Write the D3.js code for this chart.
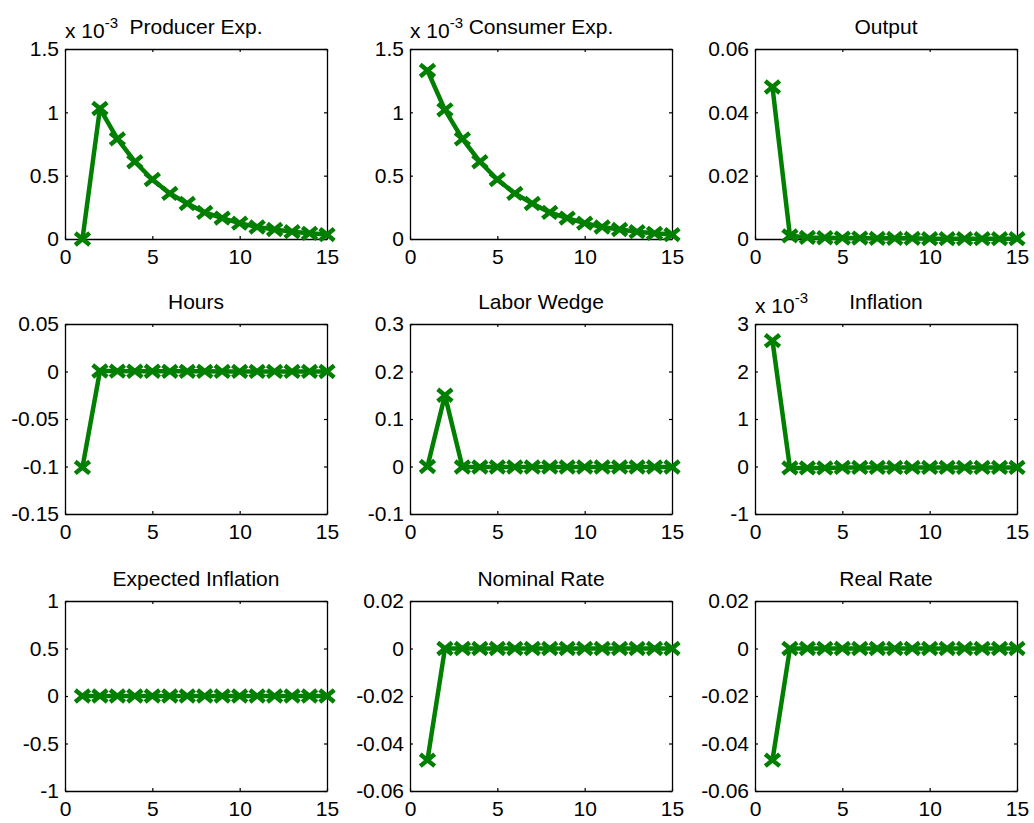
<!DOCTYPE html>
<html>
<head>
<meta charset="utf-8">
<script src="https://cdn.jsdelivr.net/npm/d3@7"></script>
<style>
  html, body { margin: 0; padding: 0; background: #fff; }
  svg { display: block; font-family: "Liberation Sans", Arial, Helvetica, sans-serif; }
</style>
</head>
<body>
<svg id="chart" width="1034" height="823"></svg>
<script>
// ---------- data ----------
const periods = [1,2,3,4,5,6,7,8,9,10,11,12,13,14,15];

const titles = ["Producer Exp.", "Consumer Exp.", "Output",
                "Hours", "Labor Wedge", "Inflation",
                "Expected Inflation", "Nominal Rate", "Real Rate"];

// values in displayed units (panels with exponent are in units of 10^-3)
const producerExp = [0, 1.03, 0.79, 0.61, 0.47, 0.36, 0.28, 0.21, 0.165, 0.125, 0.095, 0.075, 0.058, 0.045, 0.035];
const consumerExp = [1.33, 1.02, 0.79, 0.61, 0.47, 0.36, 0.28, 0.21, 0.165, 0.125, 0.095, 0.075, 0.058, 0.045, 0.035];
const output      = [0.048, 0.001, 0.0005, 0.0004, 0.0003, 0.0003, 0.0002, 0.0002, 0.0002, 0.0001, 0.0001, 0.0001, 0.0001, 0.0001, 0.0001];
const hours       = [-0.101, 0.0005, 0.0004, 0.0003, 0.0003, 0.0002, 0.0002, 0.0002, 0.0001, 0.0001, 0.0001, 0.0001, 0.0001, 0.0001, 0];
const laborWedge  = [0, 0.15, -0.001, -0.001, -0.001, -0.001, -0.001, -0.001, -0.001, -0.001, -0.001, -0.001, -0.001, -0.001, -0.001];
const inflation   = [2.65, -0.03, -0.03, -0.03, -0.02, -0.02, -0.02, -0.02, -0.02, -0.02, -0.02, -0.02, -0.02, -0.02, -0.02];
const expInflation= [0, 0, 0, 0, 0, 0, 0, 0, 0, 0, 0, 0, 0, 0, 0];
const nominalRate = [-0.047, 0, 0, 0, 0, 0, 0, 0, 0, 0, 0, 0, 0, 0, 0];
const realRate    = [-0.047, 0, 0, 0, 0, 0, 0, 0, 0, 0, 0, 0, 0, 0, 0];

const seriesList = [producerExp, consumerExp, output, hours, laborWedge, inflation, expInflation, nominalRate, realRate];

const xTicks = [0, 5, 10, 15];
const xTickLabels = ["0", "5", "10", "15"];

const yDomains = [[0, 1.5], [0, 1.5], [0, 0.06],
                  [-0.15, 0.05], [-0.1, 0.3], [-1, 3],
                  [-1, 1], [-0.06, 0.02], [-0.06, 0.02]];
const yTicks = [[0, 0.5, 1, 1.5], [0, 0.5, 1, 1.5], [0, 0.02, 0.04, 0.06],
                [-0.15, -0.1, -0.05, 0, 0.05], [-0.1, 0, 0.1, 0.2, 0.3], [-1, 0, 1, 2, 3],
                [-1, -0.5, 0, 0.5, 1], [-0.06, -0.04, -0.02, 0, 0.02], [-0.06, -0.04, -0.02, 0, 0.02]];
const yTickLabels = [["0", "0.5", "1", "1.5"], ["0", "0.5", "1", "1.5"], ["0", "0.02", "0.04", "0.06"],
                     ["-0.15", "-0.1", "-0.05", "0", "0.05"], ["-0.1", "0", "0.1", "0.2", "0.3"], ["-1", "0", "1", "2", "3"],
                     ["-1", "-0.5", "0", "0.5", "1"], ["-0.06", "-0.04", "-0.02", "0", "0.02"], ["-0.06", "-0.04", "-0.02", "0", "0.02"]];
const exponents = ["-3", "-3", null, null, null, "-3", null, null, null];

// ---------- layout ----------
const colLeft = [65, 410, 755];
const rowTop = [49, 324, 601];
const plotW = 262, plotH = 190;
const green = "#007f00";
const fontSize = 21;

const svg = d3.select("#chart");
svg.append("rect").attr("width", 1034).attr("height", 823).attr("fill", "#fff");

titles.forEach((title, i) => {
  const r = Math.floor(i / 3), c = i % 3;
  const g = svg.append("g").attr("transform", `translate(${colLeft[c]},${rowTop[r]})`);
  const x = d3.scaleLinear().domain([0, 15]).range([0, plotW]);
  const y = d3.scaleLinear().domain(yDomains[i]).range([plotH, 0]);

  // axes (MATLAB style: inward ticks on all four sides)
  const tl = 3;
  const bottom = d3.axisBottom(x).tickValues(xTicks).tickSizeInner(-tl).tickSizeOuter(0)
      .tickPadding(6).tickFormat((d, k) => xTickLabels[k]);
  const top = d3.axisTop(x).tickValues(xTicks).tickSizeInner(-tl).tickSizeOuter(0).tickFormat("");
  const left = d3.axisLeft(y).tickValues(yTicks[i]).tickSizeInner(-tl).tickSizeOuter(0)
      .tickPadding(6).tickFormat((d, k) => yTickLabels[i][k]);
  const right = d3.axisRight(y).tickValues(yTicks[i]).tickSizeInner(-tl).tickSizeOuter(0).tickFormat("");

  const styleAxis = sel => {
    sel.selectAll("path").attr("stroke", "#000").attr("stroke-width", 1.3);
    sel.selectAll("line").attr("stroke", "#000").attr("stroke-width", 1.2);
    sel.selectAll("text").attr("fill", "#000").style("font-size", fontSize + "px")
       .style("font-family", '"Liberation Sans", Arial, sans-serif');
  };
  g.append("g").attr("transform", `translate(0,${plotH})`).call(bottom).call(styleAxis)
    .selectAll("text").attr("dy", "0.9em");
  g.append("g").call(top).call(styleAxis);
  g.append("g").call(left).call(styleAxis);
  g.append("g").attr("transform", `translate(${plotW},0)`).call(right).call(styleAxis);

  // data line
  const data = periods.map((p, k) => [p, seriesList[i][k]]);
  const line = d3.line().x(d => x(d[0])).y(d => y(d[1]));
  g.append("path").datum(data).attr("d", line)
    .attr("fill", "none").attr("stroke", green).attr("stroke-width", 4.5)
    .attr("stroke-linejoin", "round");

  // x markers
  const mw = 5.5, mh = 4.5;
  g.selectAll("path.mk").data(data).enter().append("path").attr("class", "mk")
    .attr("d", d => {
      const cx = x(d[0]), cy = y(d[1]);
      return `M${cx - mw},${cy - mh}L${cx + mw},${cy + mh}M${cx - mw},${cy + mh}L${cx + mw},${cy - mh}`;
    })
    .attr("fill", "none").attr("stroke", green).attr("stroke-width", 4.5).attr("stroke-linecap", "square");

  // title
  g.append("text").attr("x", plotW / 2).attr("y", -15).attr("text-anchor", "middle")
    .style("font-size", fontSize + "px").attr("fill", "#000").text(title);

  // exponent label
  if (exponents[i]) {
    const t = g.append("text").attr("x", 0).attr("y", -11).style("font-size", fontSize + "px").attr("fill", "#000");
    t.append("tspan").text("x 10");
    t.append("tspan").attr("dy", -10).style("font-size", "15px").text(exponents[i]);
  }
});
</script>
</body>
</html>
